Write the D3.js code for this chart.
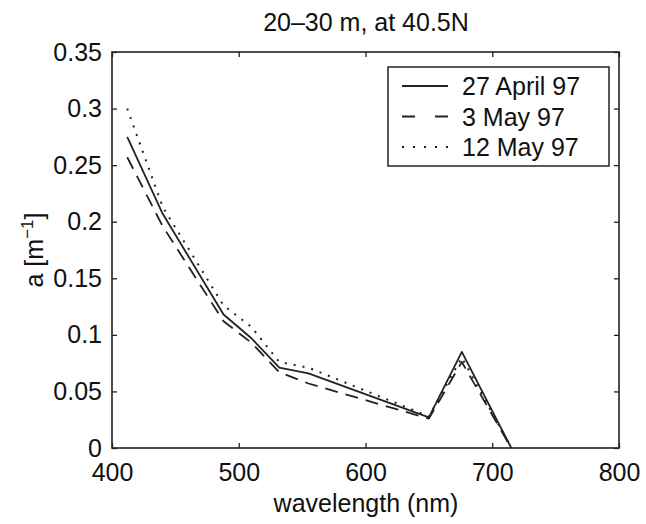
<!DOCTYPE html>
<html><head><meta charset="utf-8">
<script src="https://cdn.jsdelivr.net/npm/d3@7"></script>
<style>body{margin:0;background:#fff}svg{display:block}text{font-family:"Liberation Sans",Arial,sans-serif;fill:#111}</style>
</head><body>
<script>
const wavelengths = [412, 440, 488, 510, 532, 555, 650, 676, 715];
const april27 = [0.275, 0.207, 0.118, 0.097, 0.071, 0.066, 0.027, 0.085, 0.0];
const may3   = [0.257, 0.196, 0.112, 0.093, 0.067, 0.057, 0.026, 0.076, 0.0];
const may12  = [0.300, 0.213, 0.126, 0.107, 0.076, 0.071, 0.028, 0.080, 0.0];
const seriesNames = ["27 April 97", "3 May 97", "12 May 97"];
const xTicks = [400, 500, 600, 700, 800];
const yTicks = [0, 0.05, 0.1, 0.15, 0.2, 0.25, 0.3, 0.35];
const titleText = "20\u201330 m, at 40.5N";
const xLabel = "wavelength (nm)";

const W = 646, H = 524;
const m = {l: 112, r: 619, t: 52, b: 448};
const svg = d3.select("body").append("svg").attr("width", W).attr("height", H);
const x = d3.scaleLinear().domain([400, 800]).range([m.l, m.r]);
const y = d3.scaleLinear().domain([0, 0.35]).range([m.b, m.t]);
const fs = 25;

// axes with inward ticks
const gx = svg.append("g").attr("transform", `translate(0,${m.b})`)
  .call(d3.axisBottom(x).tickValues(xTicks).tickSize(-5).tickPadding(15).tickFormat(d3.format("d")));
const gxt = svg.append("g").attr("transform", `translate(0,${m.t})`)
  .call(d3.axisTop(x).tickValues(xTicks).tickSize(-5).tickFormat(""));
const gy = svg.append("g").attr("transform", `translate(${m.l},0)`)
  .call(d3.axisLeft(y).tickValues(yTicks).tickSize(-5).tickPadding(10).tickFormat(d => d === 0 ? "0" : String(+d.toFixed(2))));
const gyr = svg.append("g").attr("transform", `translate(${m.r},0)`)
  .call(d3.axisRight(y).tickValues(yTicks).tickSize(-5).tickFormat(""));
[gx, gxt, gy, gyr].forEach(g => {
  g.select(".domain").remove();
  g.selectAll(".tick line").attr("stroke", "#222").attr("stroke-width", 1.3);
  g.selectAll("text").attr("font-size", fs).attr("fill", "#111").style("font-family", '"Liberation Sans",Arial,sans-serif');
});
gx.selectAll("text").attr("dy", "0.71em");
svg.append("rect").attr("x", m.l).attr("y", m.t).attr("width", m.r - m.l).attr("height", m.b - m.t)
  .attr("fill", "none").attr("stroke", "#222").attr("stroke-width", 1.6);

// lines
const styles = [
  {dash: null, w: 1.8},
  {dash: "13,8", w: 1.8},
  {dash: "2,7", w: 2}
];
const seriesData = [april27, may3, may12];
const line = d3.line().x(d => x(d[0])).y(d => y(d[1]));
svg.append("clipPath").attr("id", "c").append("rect")
  .attr("x", m.l).attr("y", m.t).attr("width", m.r - m.l).attr("height", m.b - m.t);
seriesData.forEach((s, i) => {
  svg.append("path").datum(wavelengths.map((w, j) => [w, s[j]]))
    .attr("d", line).attr("fill", "none").attr("stroke", "#222")
    .attr("stroke-width", styles[i].w).attr("stroke-dasharray", styles[i].dash)
    .attr("stroke-linejoin", "round").attr("clip-path", "url(#c)");
});

// legend
const lg = svg.append("g");
lg.append("rect").attr("x", 388).attr("y", 67).attr("width", 221).attr("height", 99)
  .attr("fill", "#fff").attr("stroke", "#222").attr("stroke-width", 1.5);
seriesNames.forEach((n, i) => {
  const cy = 86 + i * 30.5;
  lg.append("line").attr("x1", 402).attr("x2", 448).attr("y1", cy).attr("y2", cy)
    .attr("stroke", "#222").attr("stroke-width", styles[i].w)
    .attr("stroke-dasharray", i === 1 ? "13,20" : i === 2 ? "2,9" : null);
  lg.append("text").attr("x", 462).attr("y", cy + 9).attr("font-size", fs).text(n);
});

// title & labels
svg.append("text").attr("x", 366).attr("y", 31).attr("text-anchor", "middle").attr("font-size", fs).text(titleText);
svg.append("text").attr("x", 366).attr("y", 512).attr("text-anchor", "middle").attr("font-size", fs).text(xLabel);
const yl = svg.append("text").attr("transform", "translate(43,250) rotate(-90)").attr("text-anchor", "middle").attr("font-size", fs);
yl.append("tspan").text("a [m");
yl.append("tspan").attr("dy", -10).attr("font-size", 17).text("\u22121");
yl.append("tspan").attr("dy", 10).text("]");
</script>
</body></html>
